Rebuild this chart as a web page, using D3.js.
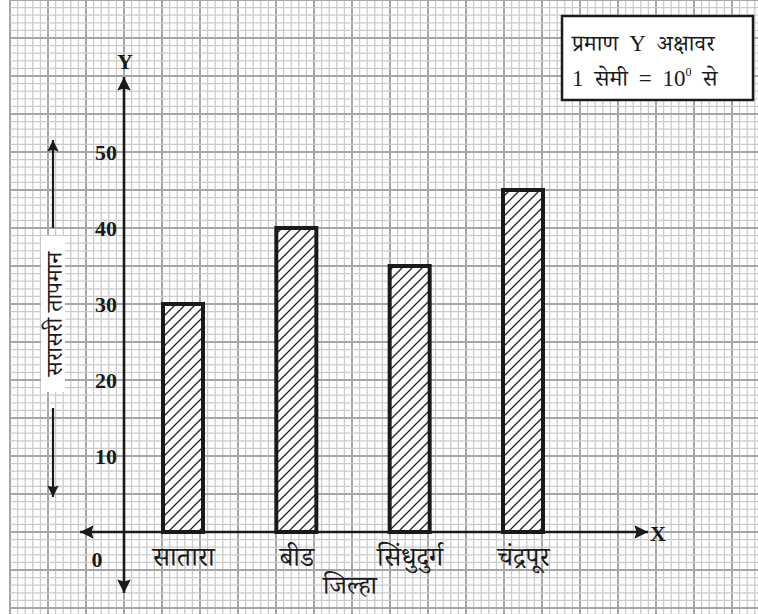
<!DOCTYPE html>
<html>
<head>
<meta charset="utf-8">
<script src="https://cdn.jsdelivr.net/npm/d3@7"></script>
<style>
  html, body { margin: 0; padding: 0; background: #fff; }
  svg { display: block; }
  .num { font-family: "Liberation Serif", "DejaVu Serif", serif; font-weight: bold; font-size: 22px; fill: #1a1a1a; }
  .deva { font-family: "Noto Serif Devanagari", "Noto Sans Devanagari", "Lohit Devanagari", "FreeSerif", sans-serif; font-size: 22px; fill: #1a1a1a; }
  .lat { font-family: "Liberation Serif", "DejaVu Serif", serif; }
</style>
</head>
<body>
<svg id="chart" width="758" height="614"></svg>
<script>
// chart data
var districts = ["सातारा", "बीड", "सिंधुदुर्ग", "चंद्रपूर"];
var avg_temp = [30, 40, 35, 45];
var y_ticks = [10, 20, 30, 40, 50];

var svg = d3.select('#chart');
var W = 758, H = 614;

// origin of the axes on the graph paper
var ox = 124, oy = 532;
var major = 38, minor = major / 5;

var y = d3.scaleLinear().domain([0, 50]).range([oy, oy - 10 * major]);
var x = d3.scalePoint().domain(districts).range([183, 523]);
var bar_w = 40;

// graph paper background
var grid = svg.append('g');
var gx0 = 10;
var xs = d3.range(gx0, W + 1, minor);
var ys = d3.range(0, H + 1, minor);
grid.selectAll('line.vx').data(xs).enter().append('line')
	.attr('x1', function(d) { return d; }).attr('x2', function(d) { return d; })
	.attr('y1', 0).attr('y2', H)
	.attr('stroke', function(d, i) { return i % 5 === 0 ? '#a6a6a6' : '#cbcbcb'; })
	.attr('stroke-width', function(d, i) { return i % 5 === 0 ? 2 : 1.3; });
grid.selectAll('line.hy').data(ys).enter().append('line')
	.attr('x1', gx0).attr('x2', W)
	.attr('y1', function(d) { return d; }).attr('y2', function(d) { return d; })
	.attr('stroke', function(d, i) { return i % 5 === 0 ? '#a6a6a6' : '#cbcbcb'; })
	.attr('stroke-width', function(d, i) { return i % 5 === 0 ? 2 : 1.3; });

// hatch pattern for the bars
var defs = svg.append('defs');
var pat = defs.append('pattern')
	.attr('id', 'hatch')
	.attr('patternUnits', 'userSpaceOnUse')
	.attr('width', 10).attr('height', 10);
pat.append('rect').attr('width', 10).attr('height', 10).attr('fill', '#fff');
pat.append('path')
	.attr('d', 'M-2,2 l4,-4 M0,10 l10,-10 M8,12 l4,-4')
	.attr('stroke', '#222').attr('stroke-width', 1.3);

defs.append('marker')
	.attr('id', 'arrow')
	.attr('viewBox', '0 0 10 10')
	.attr('refX', 10).attr('refY', 5)
	.attr('markerWidth', 7.5).attr('markerHeight', 5.2)
	.attr('markerUnits', 'strokeWidth')
	.attr('orient', 'auto-start-reverse')
	.append('path').attr('d', 'M0,0 L10,5 L0,10 L1.5,5 Z').attr('fill', '#1a1a1a');

// bars
svg.selectAll('rect.bar').data(districts).enter().append('rect')
	.attr('class', 'bar')
	.attr('x', function(d) { return x(d) - bar_w / 2; })
	.attr('width', bar_w)
	.attr('y', function(d, i) { return y(avg_temp[i]); })
	.attr('height', function(d, i) { return y(0) - y(avg_temp[i]); })
	.attr('fill', 'url(#hatch)')
	.attr('stroke', '#1a1a1a').attr('stroke-width', 4);

// axes lines with arrows
svg.append('line')
	.attr('x1', 80).attr('x2', 648).attr('y1', oy).attr('y2', oy)
	.attr('stroke', '#1a1a1a').attr('stroke-width', 2.6)
	.attr('marker-start', 'url(#arrow)').attr('marker-end', 'url(#arrow)');
svg.append('line')
	.attr('x1', ox).attr('x2', ox).attr('y1', 77).attr('y2', 593)
	.attr('stroke', '#1a1a1a').attr('stroke-width', 2.6)
	.attr('marker-start', 'url(#arrow)').attr('marker-end', 'url(#arrow)');

// y tick labels
var y_axis = svg.append('g')
	.attr('transform', 'translate(' + (ox - 7) + ',0)')
	.call(d3.axisLeft(y).tickValues(y_ticks).tickSize(0).tickPadding(0));
y_axis.select('.domain').remove();
y_axis.selectAll('text').attr('class', 'num').attr('font-family', null).attr('font-size', null).attr('fill', null).attr('dy', '0.35em');

// x category labels
var x_axis = svg.append('g')
	.attr('transform', 'translate(0,' + (oy + 8) + ')')
	.call(d3.axisBottom(x).tickSize(0).tickPadding(0));
x_axis.select('.domain').remove();
x_axis.selectAll('text').attr('class', 'deva').attr('font-family', null).attr('font-size', null).attr('fill', null)
	.style('font-size', '27px').attr('dy', '0.95em');

svg.append('text').attr('class', 'num').attr('x', 97).attr('y', 567).attr('text-anchor', 'middle').text('0');
svg.append('text').attr('class', 'num').attr('x', 125).attr('y', 69).attr('text-anchor', 'middle').text('Y');
svg.append('text').attr('class', 'num').attr('x', 658).attr('y', 541).attr('text-anchor', 'middle').text('X');

svg.append('text').attr('class', 'deva').attr('x', 350).attr('y', 594).attr('text-anchor', 'middle')
	.style('font-size', '26px').text('जिल्हा');

// y axis title with arrows
svg.append('line').attr('x1', 53).attr('x2', 53).attr('y1', 228).attr('y2', 140)
	.attr('stroke', '#1a1a1a').attr('stroke-width', 2.2).attr('marker-end', 'url(#arrow)');
svg.append('line').attr('x1', 53).attr('x2', 53).attr('y1', 408).attr('y2', 497)
	.attr('stroke', '#1a1a1a').attr('stroke-width', 2.2).attr('marker-end', 'url(#arrow)');
svg.append('rect').attr('x', 41).attr('y', 236).attr('width', 24).attr('height', 156).attr('fill', '#fff');
svg.append('text').attr('class', 'deva')
	.attr('transform', 'translate(62,314) rotate(-90)')
	.attr('text-anchor', 'middle').style('font-size', '23px').text('सरासरी तापमान');

// scale box
var box = svg.append('g');
box.append('rect').attr('x', 562).attr('y', 16).attr('width', 191).attr('height', 84)
	.attr('fill', '#fff').attr('stroke', '#1a1a1a').attr('stroke-width', 2.5);
var t1 = box.append('text').attr('class', 'deva').attr('x', 572).attr('y', 51)
	.style('font-size', '23px').attr('word-spacing', 5);
t1.append('tspan').text('प्रमाण ');
t1.append('tspan').attr('class', 'lat').text('Y');
t1.append('tspan').text(' अक्षावर');
var t2 = box.append('text').attr('class', 'deva').attr('x', 572).attr('y', 86)
	.style('font-size', '23px').attr('word-spacing', 5);
t2.append('tspan').attr('class', 'lat').text('1');
t2.append('tspan').text(' सेमी ');
t2.append('tspan').attr('class', 'lat').text('= 10');
t2.append('tspan').attr('class', 'lat').attr('dy', -10).style('font-size', '12px').text('0');
t2.append('tspan').attr('dy', 10).text(' से');
</script>
</body>
</html>
